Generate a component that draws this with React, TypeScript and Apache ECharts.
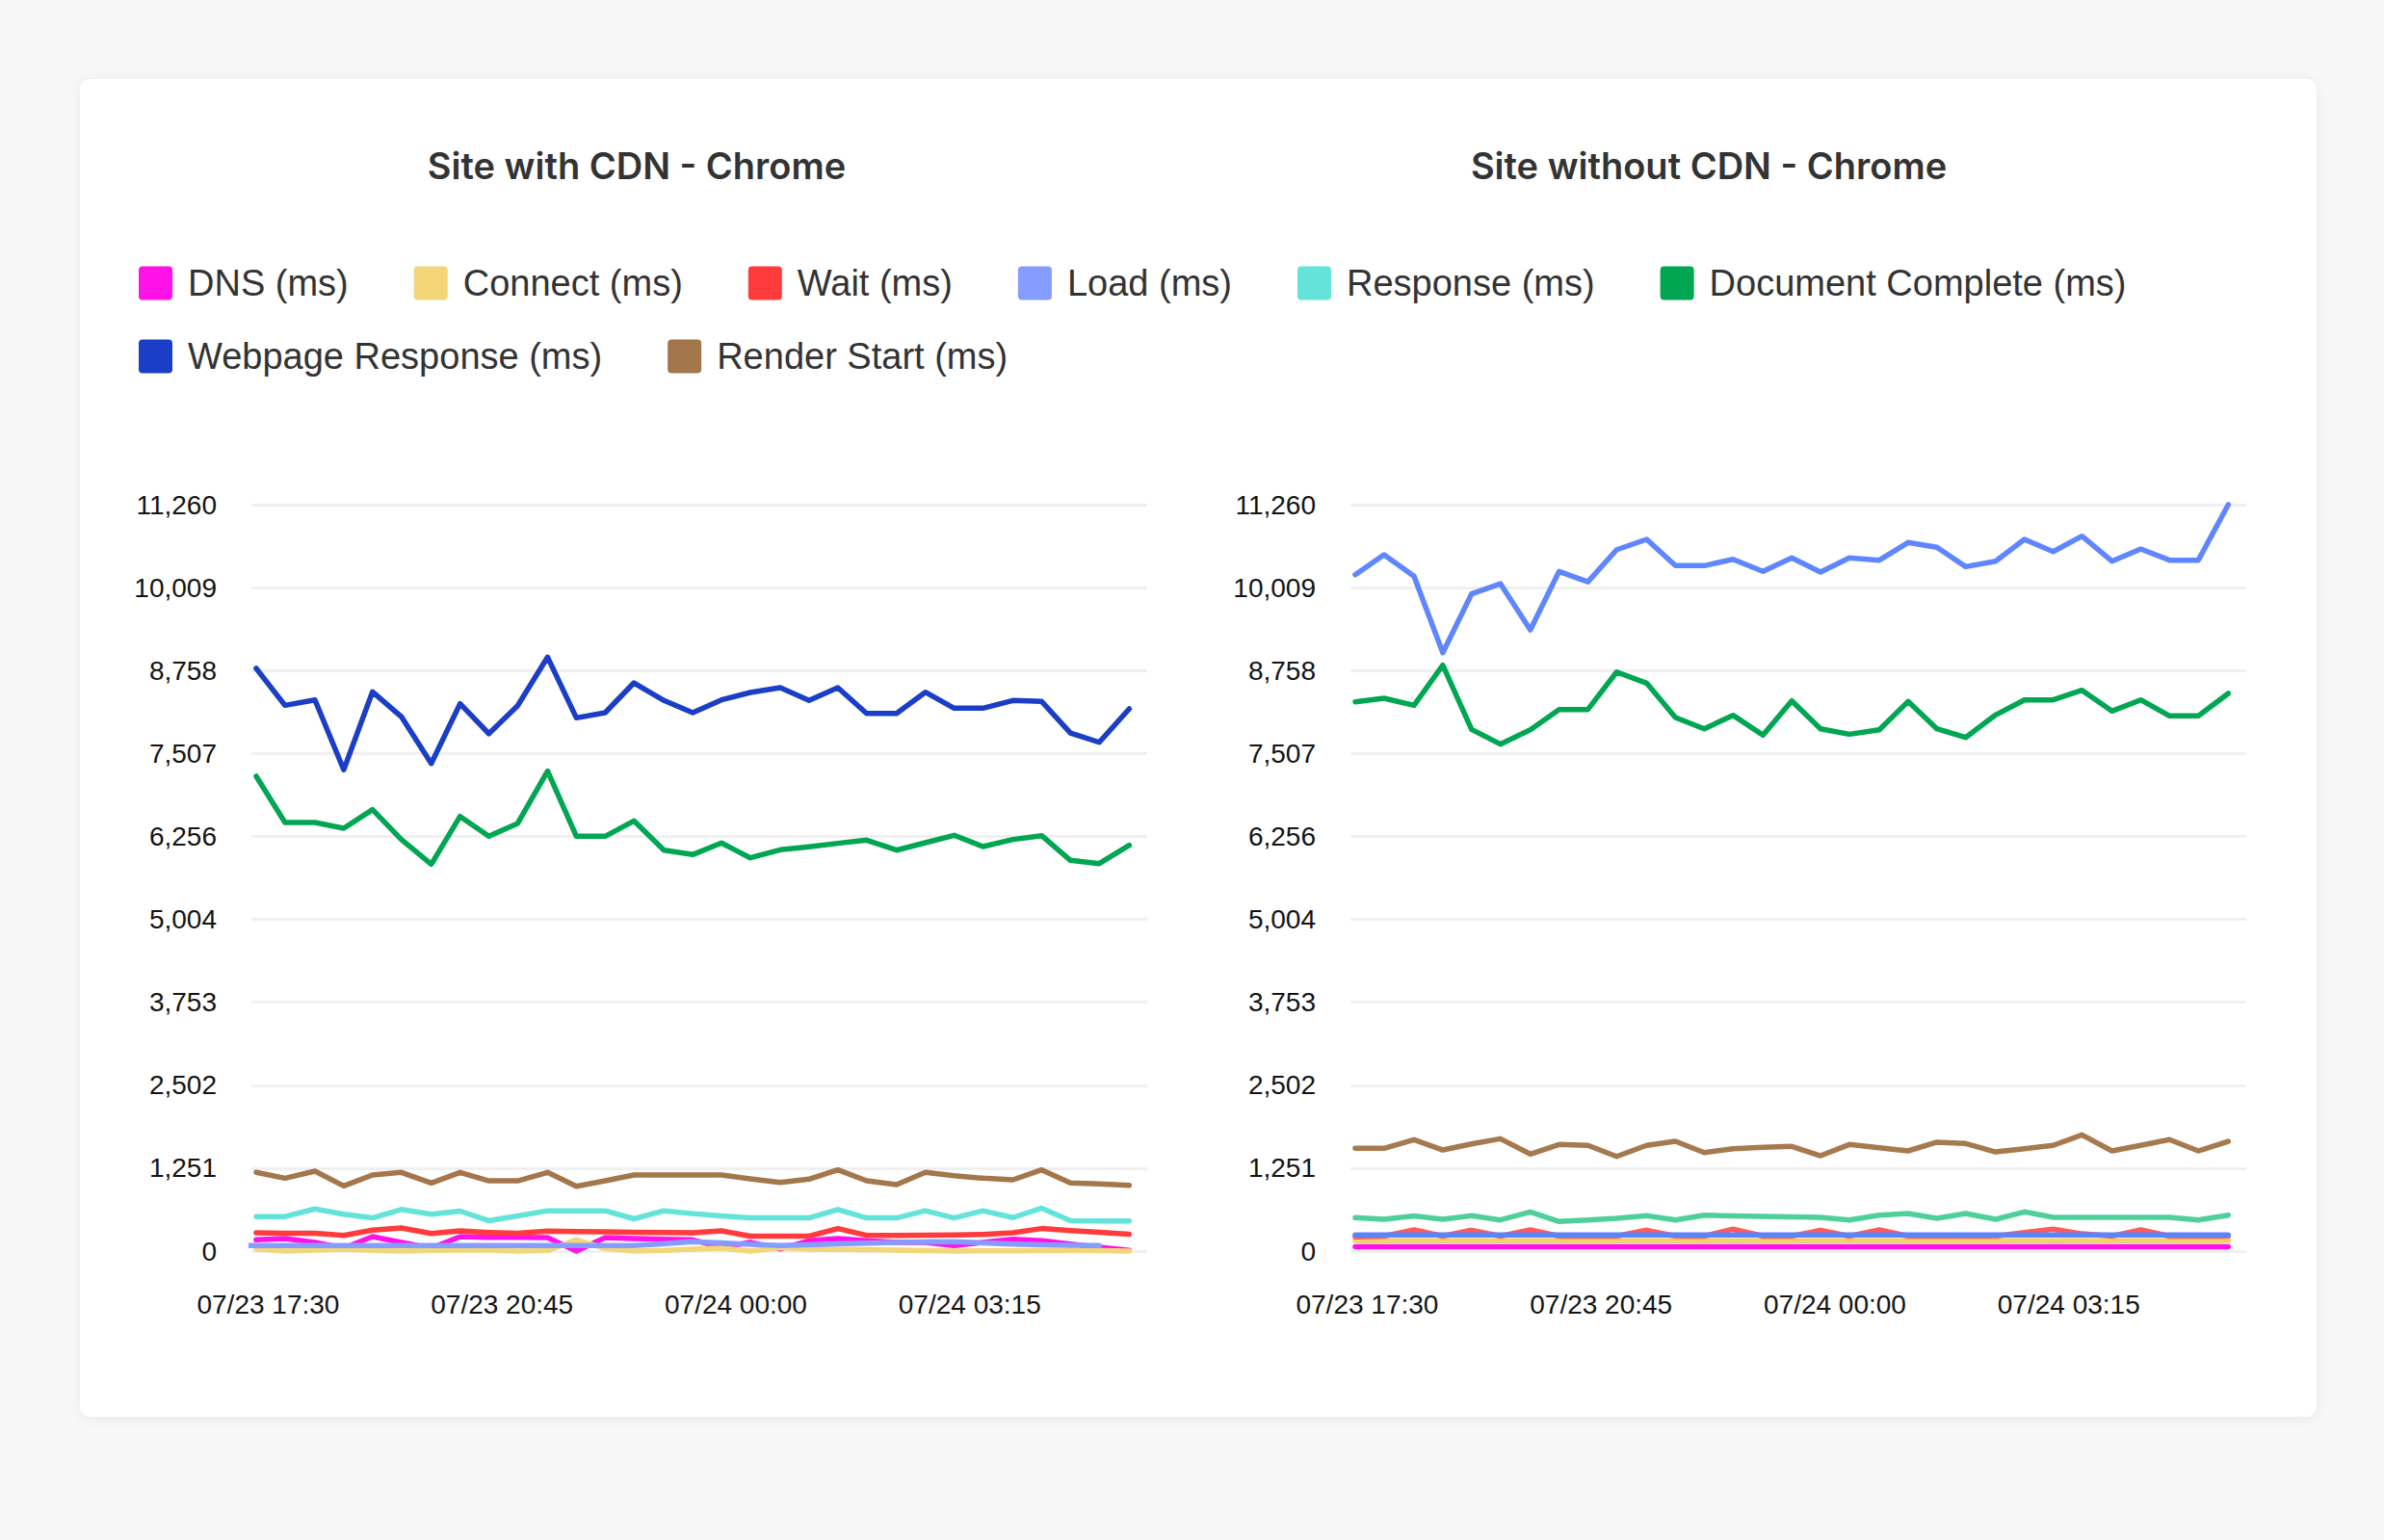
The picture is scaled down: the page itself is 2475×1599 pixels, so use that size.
import React, { useEffect, useRef } from "react";
import * as echarts from "echarts";

// ---------- data ----------
const seriesNames = [
  "DNS (ms)",
  "Connect (ms)",
  "Wait (ms)",
  "Load (ms)",
  "Response (ms)",
  "Document Complete (ms)",
  "Webpage Response (ms)",
  "Render Start (ms)",
];

const chartTitles = ["Site with CDN - Chrome", "Site without CDN - Chrome"];

// sample times (07/23 evening -> 07/24 morning)
const sampleTimes = [
  "17:20", "17:44", "18:09", "18:33", "18:57", "19:21", "19:46", "20:10", "20:34", "20:58",
  "21:23", "21:47", "22:11", "22:35", "23:00", "23:24", "23:48", "00:12", "00:37", "01:01",
  "01:25", "01:49", "02:14", "02:38", "03:02", "03:26", "03:51", "04:15", "04:39", "05:03",
  "05:28",
];
// Load samples of the CDN site are logged earlier
const loadTimesWithCdn = [
  "16:55", "17:19", "17:44", "18:08", "18:32", "18:56", "19:21", "19:45", "20:09", "20:33",
  "20:58", "21:22", "21:46", "22:10", "22:35", "22:59", "23:23", "23:47", "00:12", "00:36",
  "01:00", "01:24", "01:49", "02:13", "02:37", "03:01", "03:26", "03:50", "04:14", "04:38",
  "05:03",
];

const xTickLabels = ["07/23 17:30", "07/23 20:45", "07/24 00:00", "07/24 03:15"];
const xRange = ["07/23 17:16", "07/24 05:43"];
const yMax = 11260;
const ySplits = 9;

// With CDN
const dnsCdn = [170, 189, 131, 44, 218, 131, 44, 218, 208, 208, 203, 0, 203, 189, 179, 170, 58, 131, 33, 155, 189, 155, 131, 131, 82, 131, 179, 155, 107, 58, 10];
const connectCdn = [33, 0, 15, 30, 10, 0, 10, 15, 15, 0, 10, 170, 40, 0, 10, 30, 44, 0, 50, 30, 24, 20, 15, 8, 0, 3, 5, 8, 10, 8, 0];
const waitCdn = [276, 270, 270, 237, 315, 349, 266, 305, 280, 270, 300, 295, 290, 285, 280, 276, 305, 225, 225, 225, 340, 237, 237, 240, 245, 250, 276, 340, 310, 285, 255];
const loadCdn = [85, 85, 85, 85, 85, 85, 85, 85, 85, 85, 85, 85, 85, 85, 85, 110, 141, 125, 100, 83, 95, 110, 121, 130, 138, 141, 125, 105, 95, 88, 83];
const responseCdn = [520, 520, 636, 555, 500, 628, 555, 603, 458, 530, 608, 608, 608, 487, 608, 565, 530, 500, 500, 500, 628, 500, 500, 608, 500, 608, 505, 647, 458, 455, 453];
const docCompleteCdn = [7163, 6465, 6465, 6378, 6659, 6209, 5836, 6557, 6257, 6451, 7240, 6257, 6257, 6490, 6048, 5981, 6156, 5932, 6054, 6098, 6151, 6199, 6048, 6160, 6272, 6102, 6209, 6267, 5894, 5845, 6121];
const webpageCdn = [8790, 8233, 8315, 7260, 8437, 8063, 7356, 8257, 7806, 8228, 8960, 8044, 8122, 8572, 8306, 8122, 8315, 8427, 8500, 8306, 8500, 8111, 8111, 8431, 8190, 8190, 8306, 8291, 7816, 7675, 8180];
const renderCdn = [1187, 1099, 1206, 983, 1148, 1187, 1027, 1187, 1060, 1060, 1187, 978, 1060, 1148, 1148, 1148, 1148, 1090, 1036, 1085, 1225, 1060, 1002, 1187, 1138, 1099, 1075, 1225, 1027, 1012, 992];

// Without CDN
const dnsNoCdn = [65, 65, 65, 65, 65, 65, 65, 65, 65, 65, 65, 65, 65, 65, 65, 65, 65, 65, 65, 65, 65, 65, 65, 65, 65, 65, 65, 65, 65, 65, 65];
const connectNoCdn = [155, 155, 155, 155, 155, 155, 155, 155, 155, 155, 155, 155, 155, 155, 155, 155, 155, 155, 155, 155, 155, 155, 155, 155, 155, 155, 155, 155, 155, 155, 155];
const waitNoCdn = [215, 225, 320, 225, 315, 225, 320, 225, 225, 225, 315, 225, 225, 330, 225, 225, 315, 225, 320, 225, 225, 225, 225, 280, 330, 260, 225, 320, 225, 225, 225];
const loadNoCdn = [245, 245, 245, 245, 245, 245, 245, 245, 245, 245, 245, 245, 245, 245, 245, 245, 245, 245, 245, 245, 245, 245, 245, 245, 245, 245, 245, 245, 245, 245, 245];
const responseNoCdn = [504, 479, 530, 480, 535, 469, 591, 446, 470, 494, 535, 469, 540, 530, 522, 515, 508, 469, 540, 567, 494, 567, 479, 591, 508, 508, 508, 508, 508, 469, 542];
const docCompleteNoCdn = [8286, 8340, 8233, 8838, 7870, 7647, 7865, 8170, 8170, 8736, 8567, 8049, 7879, 8083, 7783, 8301, 7879, 7797, 7865, 8291, 7879, 7748, 8088, 8315, 8315, 8460, 8146, 8315, 8073, 8073, 8412];
const webpageNoCdn = [10204, 10504, 10180, 9027, 9913, 10068, 9371, 10253, 10097, 10581, 10737, 10340, 10340, 10436, 10253, 10456, 10243, 10456, 10422, 10689, 10616, 10325, 10407, 10737, 10552, 10785, 10407, 10591, 10422, 10422, 11260];
const renderNoCdn = [1550, 1550, 1681, 1525, 1617, 1695, 1463, 1608, 1594, 1428, 1594, 1656, 1486, 1545, 1565, 1579, 1438, 1608, 1559, 1511, 1642, 1622, 1496, 1545, 1594, 1753, 1511, 1594, 1681, 1511, 1656];

const colorsCdn = ["#ff12e6", "#f3d677", "#ff3b3b", "#849dff", "#63e3d9", "#00a651", "#1a3ec6", "#a4764b"];
const colorsNoCdn = ["#ff10e6", "#f2d374", "#ff5b5b", "#5c84fb", "#4fcf9a", "#00a651", "#5f86ff", "#a67a4f"];

// ---------- helpers ----------
const clockToMin = (s: string) => {
  const [h, m] = s.split(":").map(Number);
  return (h < 12 ? 1440 : 0) + h * 60 + m;
};
const stampToMin = (s: string) => {
  const [d, t] = s.split(" ");
  const day = Number(d.split("/")[1]);
  const [h, m] = t.split(":").map(Number);
  return (day - 23) * 1440 + h * 60 + m;
};
const minToStamp = (v: number) => {
  const r = Math.round(v);
  const day = r >= 1440 ? "07/24" : "07/23";
  const mm = ((r % 1440) + 1440) % 1440;
  const hh = String(Math.floor(mm / 60)).padStart(2, "0");
  const mi = String(mm % 60).padStart(2, "0");
  return `${day} ${hh}:${mi}`;
};

const FONT = "'Liberation Sans', Arial, sans-serif";
const legendIcon =
  "path://M4,0H31A4,4,0,0,1,35,4V31A4,4,0,0,1,31,35H4A4,4,0,0,1,0,31V4A4,4,0,0,1,4,0Z";

export default function App() {
  const ref = useRef<HTMLDivElement>(null);

  useEffect(() => {
    document.body.style.margin = "0";
    document.body.style.overflow = "hidden";
    if (!ref.current) return;
    const chart = echarts.init(ref.current, undefined, { renderer: "svg" });

    const valuesCdn = [dnsCdn, connectCdn, waitCdn, loadCdn, responseCdn, docCompleteCdn, webpageCdn, renderCdn];
    const valuesNoCdn = [dnsNoCdn, connectNoCdn, waitNoCdn, loadNoCdn, responseNoCdn, docCompleteNoCdn, webpageNoCdn, renderNoCdn];

    const makeSeries = (name: string, color: string, values: number[], times: string[], idx: number) => ({
      type: "line",
      name,
      xAxisIndex: idx,
      yAxisIndex: idx,
      data: values.map((v, i) => [clockToMin(times[i]), v]),
      showSymbol: false,
      symbol: "none",
      clip: false,
      silent: true,
      lineStyle: { color, width: 5.5, cap: "round", join: "round" },
      itemStyle: { color },
      emphasis: { disabled: true },
    });

    const series: any[] = [];
    seriesNames.forEach((n, i) => {
      series.push(makeSeries(n, colorsCdn[i], valuesCdn[i], i === 3 ? loadTimesWithCdn : sampleTimes, 0));
    });
    seriesNames.forEach((n, i) => {
      series.push(makeSeries(n, colorsNoCdn[i], valuesNoCdn[i], sampleTimes, 1));
    });

    const xTickValues = xTickLabels.map(stampToMin);
    const grids = [
      { left: 261, width: 930, top: 524, bottom: 300 },
      { left: 1402, width: 930, top: 524, bottom: 300 },
    ];

    const legendBase = {
      left: 144,
      padding: 0,
      itemWidth: 35,
      itemHeight: 35,
      itemGap: 68,
      icon: legendIcon,
      selectedMode: false,
      textStyle: {
        fontFamily: FONT,
        fontSize: 38,
        lineHeight: 38,
        color: "#333333",
        padding: [0, 0, 0, 11],
      },
    };

    const option: any = {
      animation: false,
      backgroundColor: "transparent",
      graphic: chartTitles.map((t, i) => ({
        type: "text",
        x: i === 0 ? 661 : 1774,
        y: 172,
        silent: true,
        style: {
          text: t,
          align: "center",
          verticalAlign: "middle",
          textAlign: "center",
          textVerticalAlign: "middle",
          fontFamily: "Inter, 'Liberation Sans', sans-serif",
          fontWeight: 600,
          fontSize: 38,
          fill: "#333333",
        },
      })),
      legend: [
        {
          ...legendBase,
          top: 275,
          data: seriesNames.slice(0, 6).map((n, i) => ({ name: n, itemStyle: { color: colorsCdn[i] } })),
        },
        {
          ...legendBase,
          top: 351,
          data: seriesNames.slice(6).map((n, i) => ({ name: n, itemStyle: { color: colorsCdn[i + 6] } })),
        },
      ],
      grid: grids,
      xAxis: grids.map((_, i) => ({
        type: "value",
        gridIndex: i,
        min: stampToMin(xRange[0]),
        max: stampToMin(xRange[1]),
        axisLine: { show: false },
        axisTick: { show: false },
        splitLine: { show: false },
        axisLabel: {
          customValues: xTickValues,
          formatter: (v: number) => minToStamp(v),
          margin: 41,
          fontFamily: FONT,
          fontSize: 28,
          lineHeight: 28,
          color: "#141414",
        },
      })),
      yAxis: grids.map((_, i) => ({
        type: "value",
        gridIndex: i,
        min: 0,
        max: yMax,
        interval: yMax / ySplits,
        axisLine: { show: false },
        axisTick: { show: false },
        splitLine: { lineStyle: { color: "#f0f0f0", width: 3 } },
        axisLabel: {
          margin: 36,
          fontFamily: FONT,
          fontSize: 28,
          color: "#141414",
          padding: [0, 0, 6, 0],
          formatter: (v: number) => Math.round(v).toLocaleString("en-US"),
        },
      })),
      series,
    };

    chart.setOption(option);
    return () => chart.dispose();
  }, []);

  return (
    <div
      style={{
        position: "absolute",
        left: 0,
        top: 0,
        width: 2475,
        height: 1599,
        background: "#f7f7f7",
        overflow: "hidden",
      }}
    >
      <div
        style={{
          position: "absolute",
          left: 83,
          top: 82,
          width: 2322,
          height: 1389,
          background: "#ffffff",
          borderRadius: 10,
          boxShadow: "0 2px 14px rgba(0,0,0,0.06)",
        }}
      />
      <div
        ref={ref}
        style={{ position: "absolute", left: 0, top: 0, width: 2475, height: 1599 }}
      />
    </div>
  );
}
